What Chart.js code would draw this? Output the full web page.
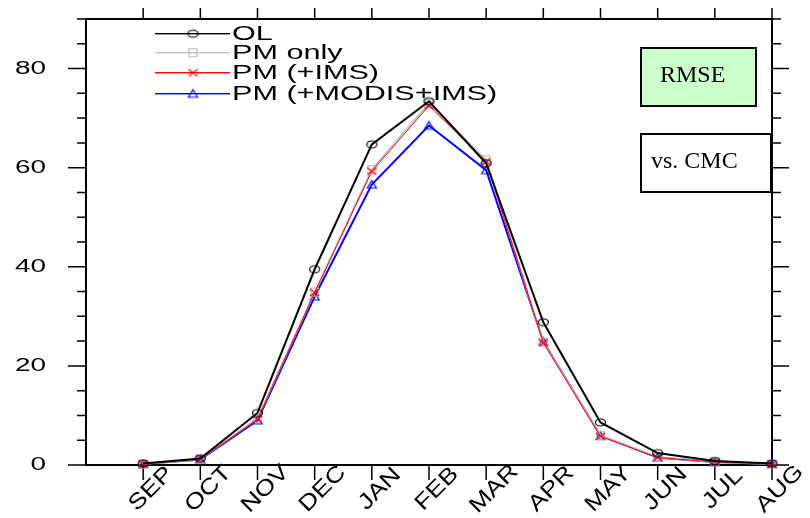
<!DOCTYPE html>
<html>
<head>
<meta charset="utf-8">
<script src="https://cdn.jsdelivr.net/npm/chart.js@4.4.1/dist/chart.umd.min.js"></script>
<style>
  html, body { margin: 0; padding: 0; background: #fff; }
  canvas { display: block; }
</style>
</head>
<body>
<canvas id="chart" width="810" height="518"></canvas>
<script>
// --- data ---

const MONTHS = ["SEP", "OCT", "NOV", "DEC", "JAN", "FEB", "MAR", "APR", "MAY", "JUN", "JUL", "AUG"];
const OL_VALUES = [0.3, 1.3, 10.5, 39.5, 64.7, 73.4, 60.9, 28.8, 8.6, 2.4, 0.8, 0.3];
const PM_ONLY_VALUES = [0.2, 1.2, 9.4, 34.9, 59.6, 73.0, 61.6, 24.8, 5.9, 1.6, 0.6, 0.2];
const PM_IMS_VALUES = [0.2, 1.2, 9.2, 34.8, 59.3, 72.5, 61.2, 24.7, 5.8, 1.5, 0.6, 0.2];
const PM_MODIS_IMS_VALUES = [0.2, 1.1, 9.0, 34.0, 56.6, 68.5, 59.5, 24.9, 5.9, 1.5, 0.6, 0.2];
const SERIES_NAMES = ["OL", "PM only", "PM (+IMS)", "PM (+MODIS+IMS)"];
const Y_LABEL_TICKS = [0, 20, 40, 60, 80];
const Y_MIN = 0;
const Y_MAX = 90;
const Y_MINOR_STEP = 5;

// --- markers (small canvases used as point styles) ---

function marker_make(kind, color) {
  const c = document.createElement("canvas");
  c.width = 13;
  c.height = 11;
  const g = c.getContext("2d");
  g.strokeStyle = color;
  g.lineWidth = 1.2;
  g.beginPath();
  if (kind === "ellipse") {
    g.ellipse(6.5, 5.5, 5, 3.5, 0, 0, Math.PI * 2);
  } else if (kind === "square") {
    g.rect(2.5, 1.5, 8, 8);
  } else if (kind === "cross") {
    g.moveTo(2, 2); g.lineTo(11, 9);
    g.moveTo(11, 2); g.lineTo(2, 9);
  } else if (kind === "triangle") {
    g.moveTo(6.5, 1.5); g.lineTo(11, 9); g.lineTo(2, 9); g.closePath();
  }
  g.stroke();
  return c;
}

const SERIES = [
  { name: SERIES_NAMES[0], values: OL_VALUES, color: "#000000", width: 2, marker: marker_make("ellipse", "#000000"), order: 0 },
  { name: SERIES_NAMES[1], values: PM_ONLY_VALUES, color: "#c4c4c4", width: 2, marker: marker_make("square", "#b8b8b8"), order: 2 },
  { name: SERIES_NAMES[2], values: PM_IMS_VALUES, color: "#ff0000", width: 1, marker: marker_make("cross", "#ff0000"), order: 1 },
  { name: SERIES_NAMES[3], values: PM_MODIS_IMS_VALUES, color: "#0000ff", width: 2, marker: marker_make("triangle", "#0000ff"), order: 3 },
];

// --- text helper (wide Helvetica look) ---

function text_draw(ctx, str, x, y, opts) {
  ctx.save();
  ctx.translate(x, y);
  if (opts.rotate) ctx.rotate(opts.rotate);
  ctx.scale(opts.sx || 1, 1);
  ctx.font = opts.font;
  ctx.fillStyle = "#000";
  ctx.textAlign = opts.align || "left";
  ctx.textBaseline = opts.baseline || "middle";
  ctx.fillText(str, 0, 0);
  ctx.restore();
}

// --- frame, ticks, labels, legend ---

const framePlugin = {
  id: "frame",
  beforeDatasetsDraw(chart) {
    const ctx = chart.ctx;
    const a = chart.chartArea;
    const xs = chart.scales.x;
    const ys = chart.scales.y;

    ctx.save();
    ctx.strokeStyle = "#000";
    ctx.lineWidth = 2;
    ctx.strokeRect(a.left, a.top, a.right - a.left, a.bottom - a.top);

    ctx.lineWidth = 1.5;
    ctx.beginPath();
    for (let v = Y_MIN; v <= Y_MAX; v += Y_MINOR_STEP) {
      const py = ys.getPixelForValue(v);
      const major = Y_LABEL_TICKS.indexOf(v) !== -1;
      ctx.moveTo(a.left - (major ? 18 : 9), py);
      ctx.lineTo(a.left, py);
      ctx.moveTo(a.right, py);
      ctx.lineTo(a.right + (major ? 17 : 9), py);
    }
    for (let i = 1; i <= MONTHS.length; i++) {
      const px = xs.getPixelForValue(i);
      ctx.moveTo(px, a.bottom);
      ctx.lineTo(px, a.bottom + 15);
      ctx.moveTo(px, a.top);
      ctx.lineTo(px, a.top - 11);
    }
    ctx.stroke();
    ctx.restore();
  },
  afterDraw(chart) {
    const ctx = chart.ctx;
    const a = chart.chartArea;
    const xs = chart.scales.x;
    const ys = chart.scales.y;

    Y_LABEL_TICKS.forEach(function (v) {
      text_draw(ctx, String(v), 46, ys.getPixelForValue(v), { font: "18px 'Liberation Sans', Arial, sans-serif", sx: 1.55, align: "right" });
    });

    MONTHS.forEach(function (m, i) {
      const px = xs.getPixelForValue(i + 1);
      text_draw(ctx, m, px + 8, a.bottom + 24, { font: "22px 'Liberation Sans', Arial, sans-serif", sx: 1.2, align: "center", rotate: -Math.PI / 4 });
    });

    // legend
    const legendY = [33, 52, 72, 93];
    SERIES.forEach(function (s, i) {
      const y = legendY[i];
      ctx.save();
      ctx.fillStyle = s.color;
      ctx.fillRect(155, y, 75, 1.4);
      ctx.drawImage(s.marker, 193 - s.marker.width / 2, y + 0.7 - s.marker.height / 2);
      ctx.restore();
      text_draw(ctx, s.name, 232, y + 1, { font: "20px 'Liberation Sans', Arial, sans-serif", sx: 1.53 });
    });

    // annotation boxes
    ctx.save();
    ctx.lineWidth = 2;
    ctx.strokeStyle = "#000";
    ctx.fillStyle = "#ccffcc";
    ctx.fillRect(641, 48, 115, 58);
    ctx.strokeRect(641, 48, 115, 58);
    ctx.fillStyle = "#ffffff";
    ctx.fillRect(641, 134, 130, 58);
    ctx.strokeRect(641, 134, 130, 58);
    ctx.restore();
    text_draw(ctx, "RMSE", 660, 82, { font: "24px 'Liberation Serif', 'Times New Roman', serif", baseline: "alphabetic" });
    text_draw(ctx, "vs. CMC", 651, 168, { font: "24px 'Liberation Serif', 'Times New Roman', serif", baseline: "alphabetic" });
  },
};

// --- chart ---

const datasets = SERIES.map(function (s) {
  return {
    label: s.name,
    data: s.values.map(function (v, i) { return { x: i + 1, y: v }; }),
    borderColor: s.color,
    borderWidth: s.width,
    pointStyle: s.marker,
    pointRadius: 5,
    clip: false,
    order: s.order,
    tension: 0,
  };
});

new Chart(document.getElementById("chart"), {
  type: "line",
  data: { datasets: datasets },
  options: {
    responsive: false,
    animation: false,
    events: [],
    layout: { padding: { left: 86, top: 19, right: 38, bottom: 53 } },
    scales: {
      x: { type: "linear", min: 0, max: MONTHS.length, display: false },
      y: { type: "linear", min: Y_MIN, max: Y_MAX, display: false },
    },
    plugins: {
      legend: { display: false },
      tooltip: { enabled: false },
    },
  },
  plugins: [framePlugin],
});
</script>
</body>
</html>
